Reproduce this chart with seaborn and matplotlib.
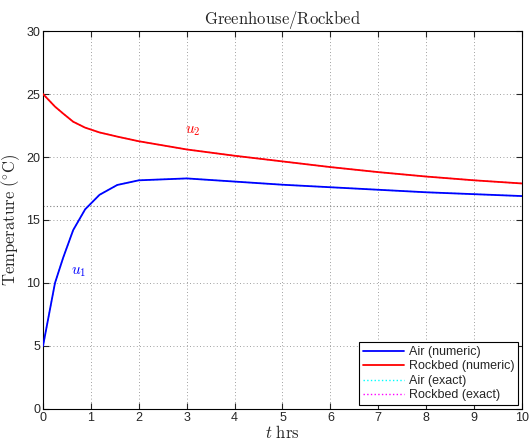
import matplotlib
matplotlib.use("Agg")
import matplotlib.pyplot as plt
import seaborn as sns
import pandas as pd
from matplotlib.lines import Line2D

# data
t_hrs = [0, 0.25, 0.42, 0.63, 0.88, 1.18, 1.55, 2, 3, 4, 5, 6, 7, 8, 9, 10]
air_numeric = [5.0, 10.0, 12.0, 14.2, 15.85, 17.0, 17.78, 18.15, 18.3, 18.05, 17.8, 17.6, 17.4, 17.2, 17.05, 16.9]
rock_numeric = [25.0, 24.0, 23.45, 22.8, 22.33, 21.95, 21.62, 21.25, 20.6, 20.1, 19.65, 19.2, 18.8, 18.45, 18.15, 17.9]
air_exact = air_numeric
rock_exact = rock_numeric
extra_ref = 16.1
xticks = list(range(0, 11))
yticks = [0, 5, 10, 15, 20, 25, 30]
legend_labels = ['Air (numeric)', 'Rockbed (numeric)', 'Air (exact)', 'Rockbed (exact)']

sns.set_style("ticks")
plt.rcParams['font.family'] = ['Liberation Sans', 'DejaVu Sans']
plt.rcParams['mathtext.fontset'] = 'cm'

fig = plt.figure(figsize=(5.31, 4.40), dpi=100)
ax = fig.add_axes([0.081, 0.0705, 0.902, 0.859])

df = pd.DataFrame({'t': t_hrs, 'air': air_numeric, 'rock': rock_numeric,
                   'air_e': air_exact, 'rock_e': rock_exact})

sns.lineplot(data=df, x='t', y='air_e', ax=ax, color='cyan', linestyle=':', lw=1.0, zorder=2)
sns.lineplot(data=df, x='t', y='rock_e', ax=ax, color='magenta', linestyle=':', lw=1.0, zorder=2)
sns.lineplot(data=df, x='t', y='air', ax=ax, color='blue', lw=1.3, zorder=3)
sns.lineplot(data=df, x='t', y='rock', ax=ax, color='red', lw=1.3, zorder=3)

handles = [Line2D([], [], color='blue', lw=1.3),
           Line2D([], [], color='red', lw=1.3),
           Line2D([], [], color='cyan', lw=1.0, linestyle=':'),
           Line2D([], [], color='magenta', lw=1.0, linestyle=':')]
leg = ax.legend(handles, legend_labels, loc='lower right', fontsize=9, frameon=True,
                fancybox=False, framealpha=1, edgecolor='black',
                borderpad=0.3, labelspacing=0.2, handlelength=3.3, handletextpad=0.4,
                borderaxespad=0.3)
leg.get_frame().set_linewidth(0.8)

ax.axhline(extra_ref, color='gray', linestyle=(0, (1, 2)), lw=0.8, zorder=1)

ax.set_xlim(0, 10)
ax.set_ylim(0, 30)
ax.set_xticks(xticks)
ax.set_yticks(yticks)
ax.grid(True, color='gray', linestyle=(0, (1, 3)), lw=0.6)
ax.tick_params(direction='in', top=True, right=True, labelsize=9, length=4, width=0.8, pad=2)
for s in ax.spines.values():
    s.set_visible(True)
    s.set_linewidth(0.8)
    s.set_color('black')

ax.text(0.75, 10.9, r'$u_1$', color='blue', fontsize=11, ha='center', va='center')
ax.text(3.13, 22.05, r'$u_2$', color='red', fontsize=11, ha='center', va='center')

ax.set_title(r'$\mathrm{Greenhouse/Rockbed}$', fontsize=12, pad=5)
ax.set_xlabel(r'$t\ \mathrm{hrs}$', fontsize=12, labelpad=0)
ax.set_ylabel(r'$\mathrm{Temperature\ (^{\circ}C)}$', fontsize=12, labelpad=3)

fig.savefig('out.png', dpi=100)
